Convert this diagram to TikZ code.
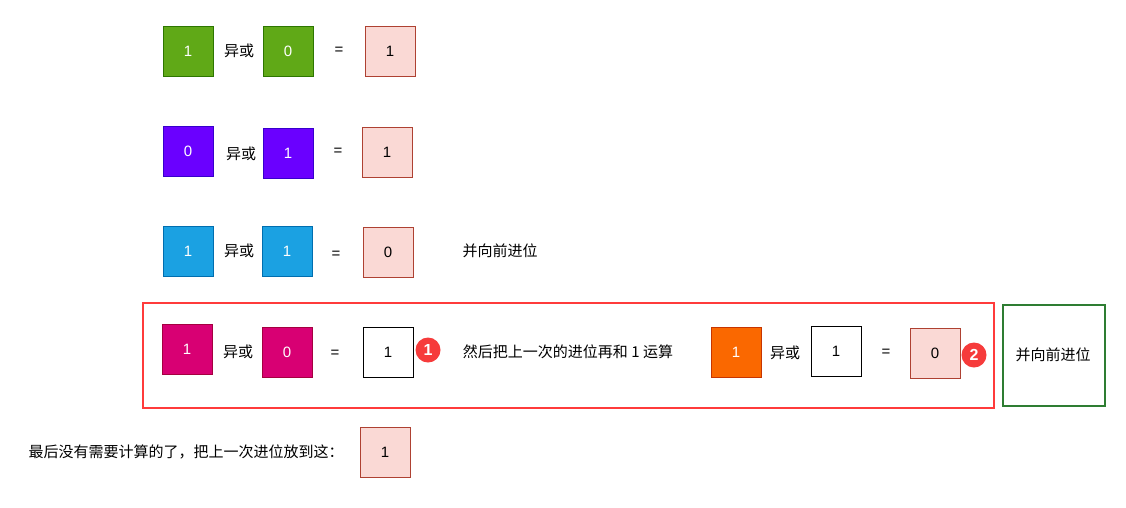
\documentclass[tikz,border=0pt]{standalone}
\usepackage{fontspec}
\setmainfont{Liberation Sans}
\newfontfamily\cjk{Noto Sans CJK SC}
\definecolor{grnF}{HTML}{60A917}\definecolor{grnD}{HTML}{2D7600}
\definecolor{purF}{HTML}{6A00FF}\definecolor{purD}{HTML}{3700CC}
\definecolor{bluF}{HTML}{1BA1E2}\definecolor{bluD}{HTML}{006EAF}
\definecolor{magF}{HTML}{D80073}\definecolor{magD}{HTML}{A50040}
\definecolor{orgF}{HTML}{FA6800}\definecolor{orgD}{HTML}{C73500}
\definecolor{pnkF}{HTML}{FAD9D5}\definecolor{pnkD}{HTML}{AE4132}
\definecolor{badge}{HTML}{F63B3B}
\definecolor{frameR}{HTML}{FF3B3B}
\definecolor{frameG}{HTML}{2E7D32}
\begin{document}
\begin{tikzpicture}[x=1pt,y=-1pt,
  every node/.style={font=\fontsize{15}{18}\selectfont},
  bitbox/.style={draw, minimum size=50pt, inner sep=0pt, line width=1pt},
  colbox/.style={bitbox, text=white},
  pinkbox/.style={bitbox, fill=pnkF, draw=pnkD},
  plainbox/.style={bitbox, fill=white, draw=black},
  lbl/.style={inner sep=0pt, text=black},
  badgec/.style={circle, fill=badge, text=white, minimum size=25pt, inner sep=0pt, font=\fontsize{16}{18}\selectfont\bfseries},
  frame/.style={line width=2.8pt}]
\useasboundingbox (0,0) rectangle (1126,507);
% row 1
\node[colbox, fill=grnF, draw=grnD] (a1) at (188,51) {1};
\node[lbl] (x1) at (239,51) {\cjk 异或};
\node[colbox, fill=grnF, draw=grnD] (b1) at (288,51) {0};
\node[lbl] (e1) at (339,51) {=};
\node[pinkbox] (r1) at (390,51) {1};
% row 2
\node[colbox, fill=purF, draw=purD] (a2) at (188,151) {0};
\node[lbl] (x2) at (241,154) {\cjk 异或};
\node[colbox, fill=purF, draw=purD] (b2) at (288,153) {1};
\node[lbl] (e2) at (338,152) {=};
\node[pinkbox] (r2) at (387,152) {1};
% row 3
\node[colbox, fill=bluF, draw=bluD] (a3) at (188,251) {1};
\node[lbl] (x3) at (239,251) {\cjk 异或};
\node[colbox, fill=bluF, draw=bluD] (b3) at (287,251) {1};
\node[lbl] (e3) at (336,255) {=};
\node[pinkbox] (r3) at (388,252) {0};
\node[lbl] (c3) at (500,251) {\cjk 并向前进位};
% row 4
\draw[frame, draw=frameR] (143,303) rectangle (994,408);
\draw[frame, draw=frameG] (1003,305) rectangle (1105,406);
\node[colbox, fill=magF, draw=magD] (a4) at (187,349) {1};
\node[lbl] (x4) at (238,352) {\cjk 异或};
\node[colbox, fill=magF, draw=magD] (b4) at (287,352) {0};
\node[lbl] (e4) at (335,354) {=};
\node[plainbox] (r4) at (388,352) {1};
\node[badgec] (n1) at (428,350) {1};
\node[lbl] (t4) at (568,352) {\cjk 然后把上一次的进位再和 1 运算};
\node[colbox, fill=orgF, draw=orgD] (a5) at (736,352) {1};
\node[lbl] (x5) at (785,353) {\cjk 异或};
\node[plainbox] (b5) at (836,351) {1};
\node[lbl] (e5) at (886,353) {=};
\node[pinkbox] (r5) at (935,353) {0};
\node[badgec] (n2) at (974,355) {2};
\node[lbl] (c5) at (1053,355) {\cjk 并向前进位};
% row 5
\node[lbl] (t6) at (186,452) {\cjk 最后没有需要计算的了，把上一次进位放到这：};
\node[pinkbox] (r6) at (385,452) {1};
\end{tikzpicture}
\end{document}
